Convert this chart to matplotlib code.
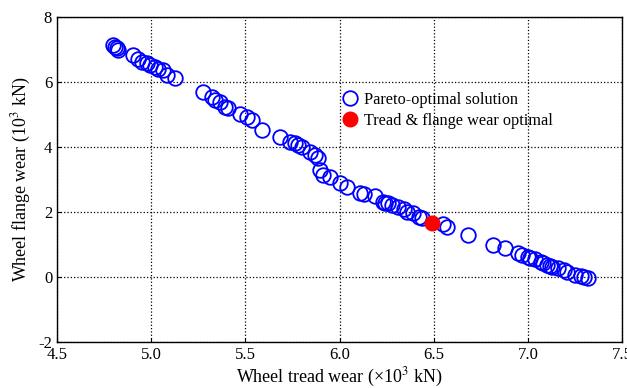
import matplotlib
matplotlib.use('Agg')
import matplotlib.pyplot as plt
import numpy as np

plt.rcParams['font.family'] = 'Liberation Serif'
plt.rcParams['mathtext.fontset'] = 'stix'
plt.rcParams['axes.unicode_minus'] = False

# Pareto front (tread wear, flange wear) in 10^3 kN
tread = [4.797, 4.808, 4.819, 4.824, 4.904, 4.930, 4.951, 4.978, 4.994, 5.020,
         5.036, 5.063, 5.084, 5.127,
         5.275, 5.323, 5.339, 5.366, 5.392, 5.408, 5.472, 5.509, 5.536, 5.589,
         5.684, 5.737, 5.764, 5.780, 5.801, 5.844, 5.870, 5.886, 5.897, 5.913,
         5.950, 6.003, 6.040, 6.109, 6.130, 6.190,
         6.23, 6.24, 6.26, 6.28, 6.31, 6.34, 6.36, 6.39, 6.42, 6.44,
         6.55, 6.57, 6.68, 6.815, 6.88, 6.95, 6.97, 7.00, 7.01, 7.04,
         7.07, 7.08, 7.10, 7.12, 7.13, 7.16, 7.19, 7.21, 7.25, 7.28, 7.30, 7.32]
flange = [7.14, 7.08, 7.05, 6.98, 6.83, 6.71, 6.62, 6.58, 6.52, 6.46,
          6.40, 6.37, 6.22, 6.12,
          5.69, 5.54, 5.45, 5.38, 5.23, 5.20, 5.02, 4.92, 4.83, 4.52,
          4.31, 4.15, 4.12, 4.06, 4.00, 3.85, 3.75, 3.66, 3.29, 3.14,
          3.08, 2.89, 2.77, 2.58, 2.55, 2.49,
          2.31, 2.28, 2.28, 2.22, 2.15, 2.09, 2.00, 1.97, 1.85, 1.82,
          1.63, 1.54, 1.29, 0.98, 0.89, 0.74, 0.68, 0.62, 0.58, 0.55,
          0.46, 0.43, 0.37, 0.34, 0.31, 0.28, 0.22, 0.15, 0.06, 0.03, 0.00, -0.03]

best_tread = [6.49]
best_flange = [1.66]

fig = plt.figure(figsize=(6.27, 3.88), dpi=100)
ax = fig.add_axes([0.091, 0.119, 0.901, 0.837])

ax.plot(tread, flange, 'o', linestyle='none', markersize=10.5,
        markerfacecolor='none', markeredgecolor='#0000ff', markeredgewidth=1.3,
        label='Pareto-optimal solution')
ax.plot(best_tread, best_flange, 'o', linestyle='none', markersize=10.5,
        color='#ff0000', label='Tread & flange wear optimal')

ax.set_xlim(4.5, 7.5)
ax.set_ylim(-2, 8)
ax.set_xticks(np.arange(4.5, 7.51, 0.5))
ax.set_xticklabels(['4.5', '5.0', '5.5', '6.0', '6.5', '7.0', '7.5'])
ax.set_yticks([-2, 0, 2, 4, 6, 8])
ax.grid(True, color='black', linestyle=':', linewidth=0.9)
ax.tick_params(direction='in', length=3, labelsize=12)
for s in ax.spines.values():
    s.set_linewidth(1.0)

ax.set_xlabel('Wheel tread wear (×10$^3$ kN)', fontsize=13, labelpad=2)
ax.set_ylabel('Wheel flange wear (10$^3$ kN)', fontsize=13, labelpad=4)

ax.legend(loc='upper left', bbox_to_anchor=(0.485, 0.79), frameon=False,
          fontsize=11.7, handletextpad=0.1, borderaxespad=0, labelspacing=0.3,
          handlelength=1.5)

fig.savefig('out.png', dpi=100)
